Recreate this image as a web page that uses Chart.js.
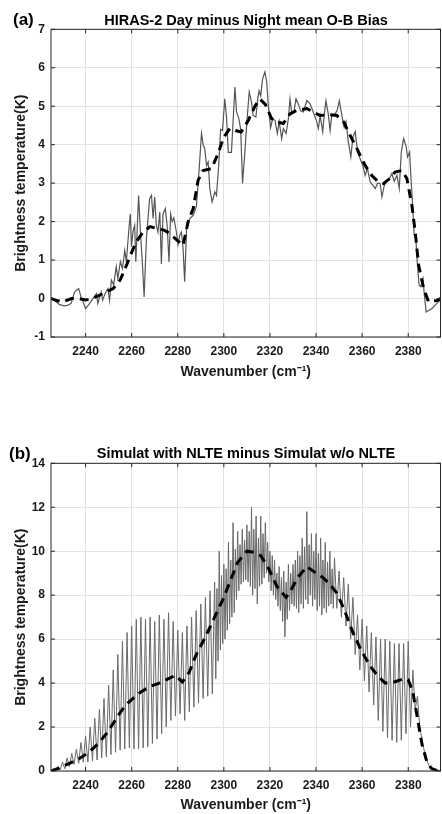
<!DOCTYPE html>
<html>
<head>
<meta charset="utf-8">
<script src="https://cdn.jsdelivr.net/npm/chart.js@4.4.1/dist/chart.umd.min.js"></script>
<style>
  html, body { margin: 0; padding: 0; background: #fff; }
  #wrap { position: relative; width: 442px; height: 814px; overflow: hidden; }
  canvas { position: absolute; left: 0; }
  .ttl { position: absolute; left: 51px; width: 390px; text-align: center; font: bold 14.5px "Liberation Sans", Arial, sans-serif; line-height: 15px; color: #000; white-space: nowrap; }
  .pl { position: absolute; font: bold 17px "Liberation Sans", Arial, sans-serif; line-height: 17px; color: #000; }
</style>
</head>
<body>
<div id="wrap">
  <canvas id="ca" width="442" height="405" style="top:0"></canvas>
  <canvas id="cb" width="442" height="409" style="top:405px"></canvas>
  <div class="pl" style="left:13px; top:11px">(a)</div>
  <div class="ttl" style="top:13px">HIRAS-2 Day minus Night mean O-B Bias</div>
  <div class="pl" style="left:9px; top:445px">(b)</div>
  <div class="ttl" style="top:446px">Simulat with NLTE minus Simulat w/o NLTE</div>
</div>
<script>
// ---------- tick labels ----------
const xTicks = [2240, 2260, 2280, 2300, 2320, 2340, 2360, 2380];
const yTicksA = [-1, 0, 1, 2, 3, 4, 5, 6, 7];
const yTicksB = [0, 2, 4, 6, 8, 10, 12, 14];

// ---------- (a) HIRAS-2 day minus night O-B bias (thin line) ----------
const dayNightWn = [2225.0, 2226.5, 2228.7, 2230.9, 2232.5, 2233.8, 2235.2, 2237.0, 2238.1, 2240.0,
  2241.7, 2243.2, 2244.7, 2245.3, 2246.8, 2247.4, 2248.5, 2249.7, 2250.4, 2251.2,
  2252.2, 2253.3, 2254.0, 2255.1, 2256.0, 2257.0, 2257.7, 2258.7, 2259.4, 2259.9,
  2260.6, 2261.3, 2261.8, 2262.3, 2263.0, 2263.8, 2264.7, 2265.4, 2266.4, 2267.1,
  2267.8, 2268.6, 2269.3, 2270.0, 2270.7, 2271.4, 2272.2, 2272.9, 2273.6, 2274.6,
  2275.4, 2276.2, 2276.9, 2277.6, 2278.3, 2279.4, 2280.1, 2280.9, 2281.6, 2282.3,
  2283.0, 2283.8, 2285.2, 2286.7, 2288.1, 2289.3, 2290.3, 2291.1, 2291.7, 2292.5,
  2293.2, 2293.9, 2294.9, 2296.1, 2296.8, 2297.8, 2298.6, 2299.4, 2300.4, 2301.2,
  2301.9, 2303.3, 2304.8, 2305.5, 2306.5, 2307.3, 2308.1, 2309.1, 2310.1, 2311.0,
  2312.0, 2312.7, 2313.9, 2314.7, 2315.3, 2316.0, 2316.8, 2317.8, 2318.6, 2319.3,
  2320.3, 2321.2, 2322.2, 2323.2, 2324.0, 2325.1, 2325.8, 2327.0, 2328.0, 2328.7,
  2329.4, 2330.4, 2331.3, 2332.3, 2333.3, 2334.5, 2336.0, 2337.4, 2338.8, 2340.3,
  2341.0, 2341.8, 2342.9, 2343.6, 2344.3, 2345.3, 2346.1, 2346.8, 2348.3, 2349.2,
  2350.1, 2351.2, 2352.2, 2353.0, 2354.0, 2355.1, 2356.0, 2357.0, 2358.0, 2359.1,
  2360.3, 2361.3, 2362.3, 2363.5, 2364.7, 2365.7, 2366.7, 2367.8, 2368.6, 2369.6,
  2370.7, 2371.9, 2372.9, 2373.9, 2375.1, 2376.1, 2377.0, 2378.0, 2379.1, 2379.7,
  2380.6, 2381.2, 2381.9, 2382.6, 2383.3, 2384.0, 2384.7, 2385.5, 2386.4, 2387.0,
  2387.8, 2388.8, 2390.3, 2391.7, 2393.2, 2394.0];
const dayNightBias = [0.0, -0.05, -0.16, -0.19, -0.17, -0.12, 0.17, 0.26, 0.03, -0.26,
  -0.13, 0.0, 0.13, -0.13, 0.17, -0.04, 0.13, 0.26, -0.05, 0.48,
  0.35, 0.83, 0.52, 0.96, 0.78, 1.25, 0.96, 1.73, 2.2, 1.35,
  1.75, 1.9, 0.96, 1.65, 2.68, 1.73, 0.87, 0.04, 1.56, 2.08,
  2.6, 2.68, 2.08, 2.64, 1.9, 1.73, 2.25, 0.9, 2.2, 2.34,
  1.9, 0.95, 2.2, 2.0, 2.1, 1.73, 1.4, 1.65, 1.73, 1.3,
  0.44, 1.8, 2.08, 2.16, 2.4, 3.38, 4.29, 3.98, 3.9, 3.46,
  3.55, 2.86, 2.51, 2.77, 2.68, 3.5, 4.4, 4.37, 5.19, 4.68,
  3.8, 3.8, 5.5, 4.85, 4.68, 4.4, 2.99, 3.8, 4.68, 5.37,
  5.1, 4.76, 4.72, 5.19, 5.4, 5.27, 5.71, 5.89, 5.63, 5.0,
  4.45, 4.68, 4.63, 4.29, 4.6, 4.16, 4.42, 4.29, 4.68, 5.19,
  4.85, 4.85, 5.19, 5.06, 4.88, 4.85, 5.15, 5.06, 4.85, 4.6,
  4.42, 4.75, 4.34, 4.8, 5.14, 4.8, 4.37, 4.76, 4.8, 4.9,
  5.14, 4.76, 4.45, 4.6, 4.08, 3.68, 4.2, 4.34, 3.8, 3.64,
  3.46, 3.2, 3.38, 3.03, 2.94, 2.86, 3.0, 2.99, 2.64, 2.94,
  3.06, 3.12, 3.25, 3.05, 3.2, 2.86, 3.81, 4.16, 3.95, 3.68,
  3.81, 3.12, 2.42, 1.64, 1.56, 0.87, 0.35, 0.31, 0.52, 0.09,
  -0.35, -0.31, -0.26, -0.17, -0.08, -0.05];

// ---------- (a) smoothed bias (dashed) ----------
const biasSmoothWn = [2225, 2227, 2230, 2234, 2237, 2240, 2243, 2247.5, 2252, 2255,
  2258, 2260, 2262, 2265, 2268, 2271, 2274, 2276.5, 2280, 2282.3,
  2284.5, 2286.7, 2288.8, 2291, 2294.7, 2297.5, 2300, 2302.6, 2305, 2307.5,
  2310.6, 2313.5, 2315.6, 2318, 2320.7, 2323, 2325.8, 2328.7, 2331.6, 2336,
  2338.8, 2341.7, 2346, 2349, 2352, 2354.8, 2357.7, 2361.3, 2364.2, 2367.1,
  2369.3, 2371.9, 2374.3, 2377.3, 2379.4, 2381.6, 2383, 2384.5, 2386.7, 2388.8,
  2392.5, 2394];
const biasSmooth = [0.0, -0.04, -0.09, 0.0, 0.0, -0.04, 0.0, 0.13, 0.26, 0.48,
  0.9, 1.2, 1.48, 1.73, 1.87, 1.82, 1.78, 1.69, 1.5, 1.38,
  2.0, 2.34, 3.07, 3.33, 3.38, 3.77, 4.2, 4.42, 4.37, 4.33,
  4.63, 5.0, 5.19, 5.05, 4.68, 4.59, 4.55, 4.8, 4.89, 4.94,
  4.85, 4.76, 4.78, 4.76, 4.59, 4.24, 3.9, 3.46, 3.2, 3.03,
  2.99, 3.12, 3.29, 3.33, 3.12, 2.42, 1.74, 0.87, 0.26, -0.08,
  -0.05, 0.0];

// ---------- (b) NLTE minus no-NLTE simulation (thin line) ----------
const nlteWn = [2225, 2226, 2227, 2228, 2229, 2230, 2231, 2232, 2233, 2234,
  2235, 2236, 2237, 2238, 2239, 2240, 2241, 2242, 2243, 2244,
  2245, 2246, 2247, 2248, 2249, 2250, 2251, 2252, 2253, 2254,
  2255, 2256, 2257, 2258, 2259, 2260, 2261, 2262, 2263, 2264,
  2265, 2266, 2267, 2268, 2269, 2270, 2271, 2272, 2273, 2274,
  2275, 2276, 2277, 2278, 2279, 2280, 2281, 2282, 2283, 2284,
  2285, 2286, 2287, 2288, 2289, 2290, 2291, 2292, 2293, 2294,
  2295,
  2296, 2296.5, 2297, 2297.5, 2298, 2298.5, 2299, 2299.5, 2300, 2300.5,
  2301, 2301.5, 2302, 2302.5, 2303, 2303.5, 2304, 2304.5, 2305, 2305.5,
  2306, 2306.5, 2307, 2307.5, 2308, 2308.5, 2309, 2309.5, 2310, 2310.5,
  2311, 2311.5, 2312, 2312.5, 2313, 2313.5, 2314, 2314.5, 2315, 2315.5,
  2316, 2316.5, 2317, 2317.5, 2318, 2318.5, 2319, 2319.5, 2320, 2320.5,
  2321, 2321.5, 2322, 2322.5, 2323, 2323.5, 2324, 2324.5, 2325, 2325.5,
  2326, 2326.5, 2327, 2327.5, 2328, 2328.5, 2329, 2329.5, 2330, 2330.5,
  2331, 2331.5, 2332, 2332.5, 2333, 2333.5, 2334, 2334.5, 2335, 2335.5,
  2336, 2336.5, 2337, 2337.5, 2338, 2338.5, 2339, 2339.5, 2340, 2340.5,
  2341, 2341.5, 2342, 2342.5, 2343, 2343.5, 2344, 2344.5, 2345, 2345.5,
  2346, 2346.5, 2347, 2347.5,
  2348, 2349, 2350, 2351, 2352, 2353, 2354, 2355, 2356, 2357,
  2358, 2359, 2360, 2361, 2362, 2363, 2364, 2365, 2366, 2367,
  2368, 2369, 2370, 2371, 2372, 2373, 2374, 2375, 2376, 2377,
  2378, 2379, 2380, 2381, 2382, 2383, 2384, 2385, 2386, 2387,
  2388, 2389, 2390, 2392, 2394];
const nlteDiff = [0.0, 0.1, 0.0, 0.2, 0.05, 0.4, 0.1, 0.6, 0.2, 0.8,
  0.3, 1.0, 0.35, 1.3, 0.4, 1.6, 0.4, 2.0, 0.45, 2.4,
  0.5, 2.8, 0.6, 3.3, 0.65, 3.9, 0.75, 4.6, 0.85, 5.3,
  0.95, 5.9, 1.0, 6.3, 1.05, 6.6, 1.0, 6.9, 1.0, 7.0,
  1.05, 6.9, 1.1, 7.0, 1.25, 6.8, 1.45, 7.1, 1.7, 6.9,
  2.0, 7.2, 2.3, 6.8, 2.5, 6.4, 2.6, 6.3, 2.3, 6.6,
  2.7, 7.0, 2.9, 7.3, 3.1, 7.6, 3.3, 7.9, 3.4, 8.2,
  3.5,
  8.6, 4.2, 8.3, 5.0, 10.0, 5.5, 8.9, 5.8, 9.4, 6.0,
  9.2, 6.4, 10.4, 6.7, 9.6, 7.0, 11.3, 7.2, 10.1, 7.8,
  10.9, 8.2, 10.3, 8.5, 11.0, 8.6, 10.5, 8.7, 11.2, 8.6,
  10.9, 8.4, 12.0, 8.0, 11.0, 8.3, 11.6, 7.6, 10.6, 8.4,
  11.6, 8.5, 10.8, 8.8, 11.3, 9.0, 10.4, 8.6, 10.0, 8.2,
  9.8, 8.0, 9.6, 7.8, 9.0, 7.5, 9.3, 7.3, 8.8, 6.8,
  9.1, 6.1, 8.6, 6.9, 9.4, 7.3, 9.0, 7.6, 9.4, 7.5,
  9.6, 7.4, 10.0, 7.2, 9.8, 7.6, 10.6, 7.4, 10.2, 7.8,
  11.8, 7.6, 10.3, 8.0, 10.8, 7.5, 10.0, 7.8, 10.8, 7.3,
  9.9, 7.5, 10.6, 7.1, 9.6, 7.4, 10.4, 7.2, 9.5, 7.5,
  10.0, 7.6, 9.2, 7.4,
  9.7, 7.4, 9.1, 7.0, 8.8, 6.6, 8.5, 6.0, 7.9, 5.3,
  7.1, 4.6, 6.9, 4.1, 6.6, 3.6, 6.3, 3.0, 6.1, 2.3,
  6.0, 1.8, 6.0, 1.5, 5.9, 1.4, 5.8, 1.3, 5.8, 1.4,
  5.8, 1.7, 5.9, 2.0, 4.6, 2.8, 3.4, 2.0, 1.4, 0.9,
  0.5, 0.25, 0.12, 0.05, 0.02];

// ---------- (b) smoothed difference (dashed) ----------
const nlteSmoothWn = [2225, 2229, 2233, 2237, 2240, 2243, 2246, 2249, 2251, 2254,
  2257, 2260, 2264, 2268, 2272, 2276, 2279, 2282, 2285, 2288,
  2292, 2296, 2300, 2303, 2306, 2310, 2313, 2316, 2319, 2323,
  2327, 2329, 2332, 2336, 2340, 2343, 2346, 2349, 2352, 2356,
  2360, 2364, 2367, 2370, 2374, 2378, 2380, 2382, 2384, 2386,
  2388, 2390, 2392, 2394];
const nlteSmooth = [0.0, 0.15, 0.35, 0.55, 0.75, 1.0, 1.3, 1.7, 2.0, 2.5,
  2.95, 3.25, 3.6, 3.85, 4.0, 4.2, 4.35, 4.05, 4.5, 5.3,
  6.1, 7.0, 7.9, 8.7, 9.5, 10.0, 9.95, 9.8, 9.3, 8.4,
  7.9, 8.2, 8.8, 9.3, 9.0, 8.8, 8.5, 8.1, 7.4, 6.3,
  5.4, 4.7, 4.3, 4.0, 4.05, 4.2, 4.15, 3.6, 2.4, 1.2,
  0.45, 0.12, 0.04, 0.0];

// ---------- helpers ----------
const FONT = '"Liberation Sans", Arial, Helvetica, sans-serif';
const TXT = '#1a1a1a';
const GRID = '#e2e2e2';
const pairs = (xs, ys) => xs.slice(0, Math.min(xs.length, ys.length)).map((x, i) => ({ x: x, y: ys[i] }));

const framePlugin = {
  id: 'frame',
  afterDatasetsDraw(chart) {
    const { ctx, chartArea: a, scales: { x, y } } = chart;
    ctx.save();
    ctx.strokeStyle = '#262626';
    ctx.lineWidth = 1;
    ctx.strokeRect(a.left, a.top, a.right - a.left, a.bottom - a.top);
    ctx.beginPath();
    x.ticks.forEach(t => {
      const p = x.getPixelForValue(t.value);
      ctx.moveTo(p, a.bottom); ctx.lineTo(p, a.bottom - 4);
      ctx.moveTo(p, a.top); ctx.lineTo(p, a.top + 4);
    });
    y.ticks.forEach(t => {
      const p = y.getPixelForValue(t.value);
      ctx.moveTo(a.left, p); ctx.lineTo(a.left + 4, p);
      ctx.moveTo(a.right, p); ctx.lineTo(a.right - 4, p);
    });
    ctx.stroke();
    ctx.restore();
  }
};

function makeChart(id, datasets, yTicks, yMin, yMax, padTop, xScaleH, xTitlePad) {
  return new Chart(document.getElementById(id), {
    type: 'line',
    data: { datasets: datasets },
    options: {
      responsive: false,
      animation: false,
      devicePixelRatio: 1,
      layout: { padding: { top: padTop, right: 1.5, left: 0, bottom: 0 } },
      plugins: { legend: { display: false }, tooltip: { enabled: false }, title: { display: false } },
      elements: { point: { radius: 0 }, line: { tension: 0 } },
      scales: {
        x: {
          type: 'linear', min: 2225, max: 2394,
          afterBuildTicks: s => { s.ticks = xTicks.map(v => ({ value: v })); },
          afterFit: s => { s.height = xScaleH; },
          grid: { color: GRID, lineWidth: 1, drawTicks: false },
          border: { display: false },
          ticks: { padding: 7, color: TXT, autoSkip: false, maxRotation: 0,
                   font: { family: FONT, size: 12, weight: 'bold' }, callback: v => String(v) },
          title: { display: true, text: 'Wavenumber (cm\u207B\u00B9)', color: TXT,
                   font: { family: FONT, size: 14, weight: 'bold' }, padding: { top: 0, bottom: xTitlePad } }
        },
        y: {
          type: 'linear', min: yMin, max: yMax,
          afterBuildTicks: s => { s.ticks = yTicks.map(v => ({ value: v })); },
          afterFit: s => { s.width = 51; },
          grid: { color: GRID, lineWidth: 1, drawTicks: false },
          border: { display: false },
          ticks: { padding: 6, color: TXT, autoSkip: false,
                   font: { family: FONT, size: 12, weight: 'bold' }, callback: v => String(v) },
          title: { display: true, text: 'Brightness temperature(K)', color: TXT,
                   font: { family: FONT, size: 14, weight: 'bold' }, padding: { top: 13, bottom: 0 } }
        }
      }
    },
    plugins: [framePlugin]
  });
}

makeChart('ca', [
  { data: pairs(biasSmoothWn, biasSmooth), borderColor: '#000', borderWidth: 3, borderDash: [9, 6], fill: false },
  { data: pairs(dayNightWn, dayNightBias), borderColor: '#555', borderWidth: 1.2, fill: false }
], yTicksA, -1, 7, 29.3, 68, 24.6);

makeChart('cb', [
  { data: pairs(nlteSmoothWn, nlteSmooth), borderColor: '#000', borderWidth: 3, borderDash: [9, 6], fill: false },
  { data: pairs(nlteWn, nlteDiff), borderColor: '#6a6a6a', borderWidth: 1, fill: false }
], yTicksB, 0, 14, 58.3, 43, 0.6);
</script>
</body>
</html>
